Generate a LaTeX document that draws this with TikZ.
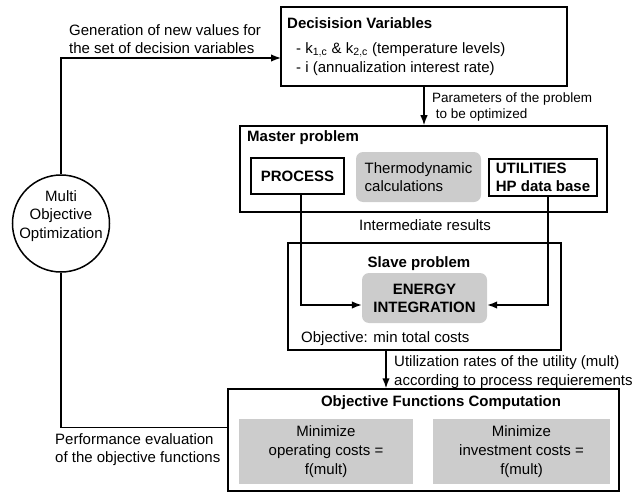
\documentclass[tikz,border=0pt]{standalone}
\usepackage{fontspec}
\setmainfont{Liberation Sans}
\usetikzlibrary{arrows.meta}
\definecolor{boxgray}{RGB}{204,204,204}
\newcommand\myfs{\fontsize{15}{18.3}\selectfont}
\newcommand\mysmallfs{\fontsize{13.5}{16}\selectfont}
\newcommand\mygrayfs{\fontsize{15}{18.8}\selectfont}
\begin{document}
\begin{tikzpicture}[x=1pt,y=-1pt,
  box/.style={draw, line width=1.5pt, inner sep=0pt},
  shade/.style={fill=boxgray, rounded corners=7pt, inner sep=0pt},
  flat/.style={fill=boxgray, inner sep=0pt},
  txt/.style={inner sep=0pt, font=\myfs},
  conn/.style={line width=1.5pt},
  arr/.style={line width=1.5pt, -{Latex[length=10pt,width=7.5pt]}}]
\useasboundingbox (0,0) rectangle (639,492);

% boxes
\node[box, minimum width=286pt, minimum height=79pt] (dv) at (424,46.5) {};
\node[box, minimum width=367pt, minimum height=86pt] (master) at (423.5,169) {};
\node[box, minimum width=93pt, minimum height=36pt, font=\myfs\bfseries] (process) at (297.5,176) {PROCESS};
\node[shade, minimum width=125pt, minimum height=50pt, align=left, font=\myfs] (thermo) at (418.5,177) {Thermodynamic\\calculations};
\node[box, minimum width=108pt, minimum height=37pt, align=left, font=\myfs\bfseries] (util) at (543,177.5) {UTILITIES\\HP data base};
\node[box, minimum width=273pt, minimum height=107pt] (slave) at (424.5,296.5) {};
\node[shade, minimum width=125pt, minimum height=50pt, align=center, font=\myfs\bfseries] (energy) at (424.5,298) {ENERGY\\INTEGRATION};
\node[box, minimum width=391pt, minimum height=102pt] (obj) at (423.5,440) {};
\node[flat, minimum width=174pt, minimum height=65pt, align=center, font=\mygrayfs] (opcost) at (326,451.5) {Minimize\\operating costs =\\f(mult)};
\node[flat, minimum width=177pt, minimum height=65pt, align=center, font=\mygrayfs] (invcost) at (521.5,451.5) {Minimize\\investment costs =\\f(mult)};
\node[circle, draw, line width=1.5pt, minimum size=97pt, inner sep=0pt] (moo) at (61,223.5) {};

% texts
\node[txt, align=center] (mootext) at (61,216) {Multi\\Objective\\Optimization};
\node[txt, align=left, anchor=west] (gentext) at (69,39.3) {Generation of new values for\\the set of decision variables};
\node[txt, anchor=base west, font=\myfs\bfseries] (dvtitle) at (287,28.3) {Decisision Variables};
\node[txt, anchor=base west] (dvk) at (296,53.3) {- k$_{\mathrm{1,c}}$ \& k$_{\mathrm{2,c}}$ (temperature levels)};
\node[txt, anchor=base west] (dvi) at (296,72.5) {- i (annualization interest rate)};
\node[txt, align=left, anchor=west, font=\mysmallfs] (paramtext) at (432,106.6) {Parameters of the problem\\\ to be optimized};
\node[txt, anchor=base west, font=\myfs\bfseries] (mastertitle) at (247,141.7) {Master problem};
\node[txt, anchor=base] (interm) at (425,230) {Intermediate results};
\node[txt, anchor=base, font=\myfs\bfseries] (slavetitle) at (419,267) {Slave problem};
\node[txt, anchor=base west] (slaveobj) at (301,342) {Objective: min total costs};
\node[txt, align=left, anchor=west] (utiltext) at (394,372) {Utilization rates of the utility (mult)\\according to process requierements};
\node[txt, anchor=base, font=\myfs\bfseries] (objtitle) at (441,406.7) {Objective Functions Computation};
\node[txt, align=left, anchor=west] (perftext) at (55,449.6) {Performance evaluation\\of the objective functions};

% connectors
\coordinate (gtarget) at (281,58);
\draw[arr] (moo.north) |- (gtarget);
\draw[arr] (dv.south) -- (dv.south |- master.north);
\coordinate (pline) at (301,305);
\coordinate (uline) at (548,305);
\draw[arr] (process.south -| pline) |- (energy.west |- pline);
\draw[arr] (util.south -| uline) |- (energy.east |- uline);
\coordinate (sline) at (386,0);
\draw[arr] (slave.south -| sline) -- (obj.north -| sline);
\coordinate (pfline) at (0,427.3);
\draw[conn] (obj.west |- pfline) -| (moo.south);
\end{tikzpicture}
\end{document}
